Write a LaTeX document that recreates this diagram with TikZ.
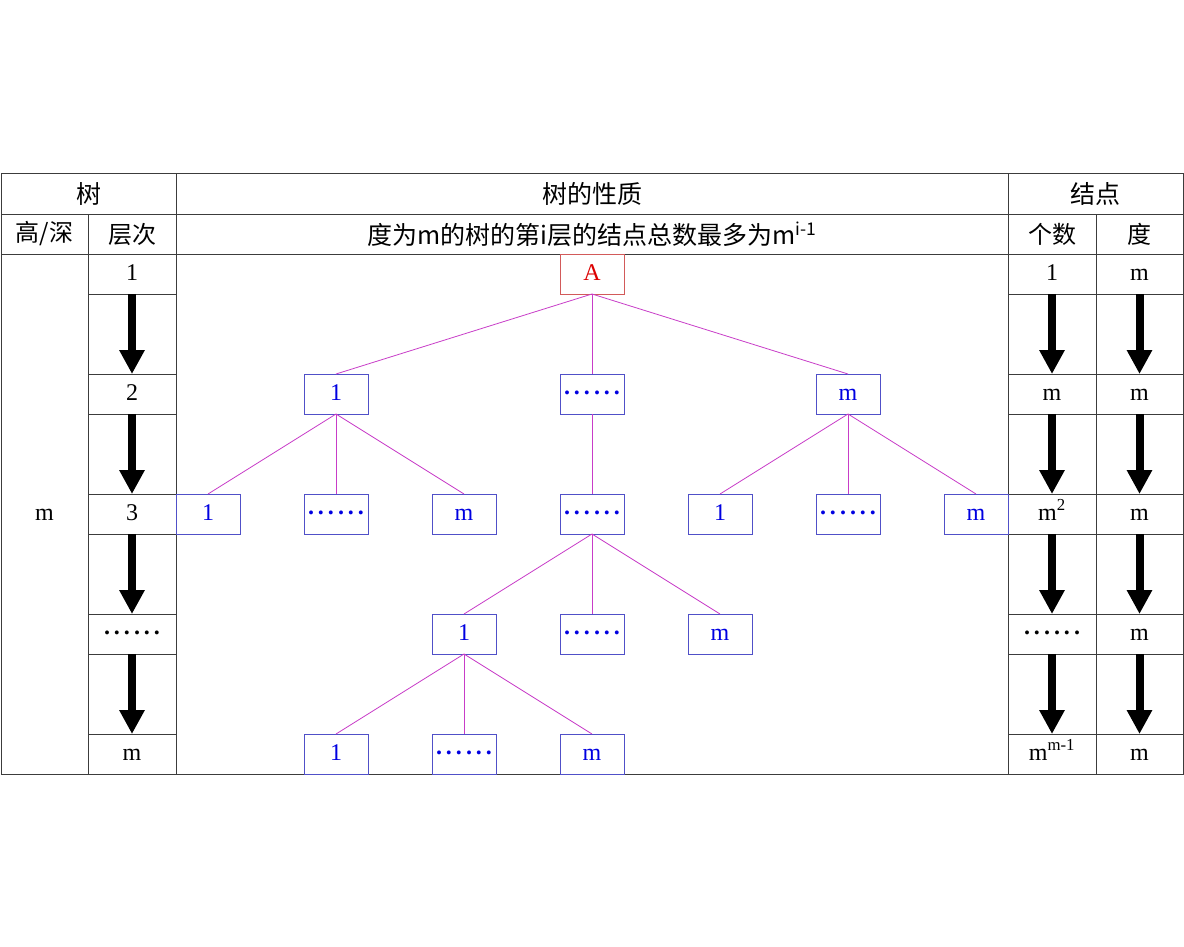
\documentclass[tikz,border=0pt]{standalone}
\usepackage{fontspec}
\setmainfont{Liberation Serif}
\newfontfamily\cjk{Noto Sans CJK SC}
\usetikzlibrary{arrows.meta,positioning}

\definecolor{gridline}{RGB}{60,60,60}
\definecolor{boxblue}{RGB}{80,80,200}
\definecolor{txtblue}{RGB}{0,0,225}
\definecolor{edgepink}{RGB}{200,60,200}
\definecolor{rootred}{RGB}{220,0,0}
\definecolor{rootline}{RGB}{210,90,90}

\newcommand{\sixdot}{\raisebox{6pt}{\textbf{.\,.\,.\,.\,.\,.}}}

\begin{document}
\begin{tikzpicture}[x=1pt,y=-1pt,node distance=80pt and 64pt,
  cell/.style={draw=gridline,line width=1pt,minimum width=88pt,minimum height=40pt,
    inner sep=0pt,outer sep=0pt,font=\fontsize{24}{28}\selectfont},
  gap/.style={cell,minimum height=80pt},
  latin/.style={text height=17pt,text depth=5pt},
  tnode/.style={draw=boxblue,line width=0.8pt,minimum width=64pt,minimum height=40pt,
    inner sep=0pt,outer sep=0pt,latin,text=txtblue,font=\fontsize{24}{28}\selectfont},
  link/.style={draw=edgepink,line width=0.8pt},
  bigarrow/.style={line width=8pt,-{Triangle[width=24pt,length=24pt]}}]
    \fill[white] (0,0) rectangle (1184,947);

    % header rows
    \node[cell,minimum width=175pt] (hTree) at (88.5,194) {\cjk\fontsize{25}{28}\selectfont 树};
    \node[cell,minimum width=832pt] (hProp) at (592,194) {\cjk\fontsize{25}{28}\selectfont 树的性质};
    \node[cell,minimum width=175pt] (hNode) at (1095.5,194) {\cjk\fontsize{25}{28}\selectfont 结点};
    \node[cell,minimum width=87pt] (hHigh) at (44.5,234) {\cjk 高/深};
    \node[cell] (hLevel) at (132,234) {\cjk 层次};
    \node[cell,minimum width=832pt] (hRule) at (592,234)
      {\cjk\fontsize{25}{28}\selectfont 度为m的树的第i层的结点总数最多为m\textsuperscript{i-1}};
    \node[cell] (hCount) at (1052,234) {\cjk 个数};
    \node[cell,minimum width=87pt] (hDeg) at (1139.5,234) {\cjk 度};

    % body
    \node[cell,latin,minimum width=87pt,minimum height=520pt] (depth) at (44.5,514) {m};
    \node[cell,minimum width=832pt,minimum height=520pt] (area) at (592,514) {};
    \foreach \r/\lv/\cnt in {0/1/1,1/2/m,2/3/m\textsuperscript{2},3/\sixdot/\sixdot,4/m/m\textsuperscript{m-1}}{
      \node[cell,latin] (lv\r) at (132,274+120*\r) {\lv};
      \node[cell,latin] (cnt\r) at (1052,274+120*\r) {\cnt};
      \node[cell,latin,minimum width=87pt] (deg\r) at (1139.5,274+120*\r) {m};
    }
    \foreach \r in {0,...,3}{
      \pgfmathtruncatemacro\s{\r+1}
      \node[gap] (gl\r) at (132,334+120*\r) {};
      \node[gap] (gc\r) at (1052,334+120*\r) {};
      \node[gap,minimum width=87pt] (gd\r) at (1139.5,334+120*\r) {};
      \draw[bigarrow] (lv\r.south) -- (lv\s.north);
      \draw[bigarrow] (cnt\r.south) -- (cnt\s.north);
      \draw[bigarrow] (deg\r.south) -- (deg\s.north);
    }

    % the tree
    \node[tnode] (n31) at (208,514) {1};
    \node[tnode,right=of n31] (n32) {\sixdot};
    \node[tnode,right=of n32] (n33) {m};
    \node[tnode,right=of n33] (n34) {\sixdot};
    \node[tnode,right=of n34] (n35) {1};
    \node[tnode,right=of n35] (n36) {\sixdot};
    \node[tnode,right=of n36] (n37) {m};
    \node[tnode,above=of n32] (n21) {1};
    \node[tnode,above=of n34] (n22) {\sixdot};
    \node[tnode,above=of n36] (n23) {m};
    \node[tnode,above=of n22,draw=rootline,text=rootred] (A) {A};
    \node[tnode,below=of n33] (n41) {1};
    \node[tnode,right=of n41] (n42) {\sixdot};
    \node[tnode,right=of n42] (n43) {m};
    \node[tnode,below=of n41] (n52) {\sixdot};
    \node[tnode,left=of n52] (n51) {1};
    \node[tnode,right=of n52] (n53) {m};

    \foreach \p/\c in {A/n21,A/n22,A/n23,n21/n31,n21/n32,n21/n33,n22/n34,
        n23/n35,n23/n36,n23/n37,n34/n41,n34/n42,n34/n43,n41/n51,n41/n52,n41/n53}
      \draw[link] (\p.south) -- (\c.north);
\end{tikzpicture}
\end{document}
